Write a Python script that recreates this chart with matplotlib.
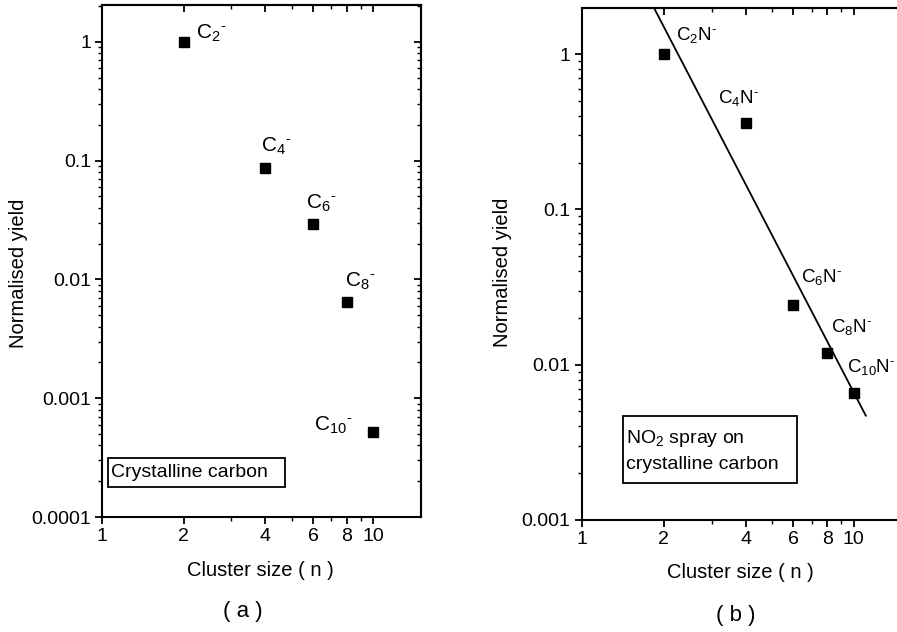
import matplotlib
matplotlib.use('Agg')
import matplotlib.pyplot as plt
from matplotlib.ticker import FixedLocator, FixedFormatter, NullFormatter
from matplotlib.patches import Rectangle

plt.rcParams['font.family'] = ['Liberation Sans', 'DejaVu Sans']
plt.rcParams['mathtext.fontset'] = 'custom'
plt.rcParams['mathtext.rm'] = 'Liberation Sans'
plt.rcParams['mathtext.it'] = 'Liberation Sans:italic'
plt.rcParams['mathtext.default'] = 'regular'

# ---------------- data ----------------
n_a = [2, 4, 6, 8, 10]
yield_a = [1.0, 0.086, 0.0294, 0.0064, 0.00052]
labels_a = [r'C$_2$$^{\text{-}}$', r'C$_4$$^{\text{-}}$', r'C$_6$$^{\text{-}}$',
            r'C$_8$$^{\text{-}}$', r'C$_{10}$$^{\text{-}}$']
label_n_a = [2.23, 3.87, 5.67, 7.89, 6.07]
label_y_a = [1.07, 0.118, 0.0397, 0.00867, 0.00053]

n_b = [2, 4, 6, 8, 10]
yield_b = [1.0, 0.359, 0.0244, 0.0119, 0.00656]
labels_b = [r'C$_2$N$^{\text{-}}$', r'C$_4$N$^{\text{-}}$', r'C$_6$N$^{\text{-}}$',
            r'C$_8$N$^{\text{-}}$', r'C$_{10}$N$^{\text{-}}$']
label_n_b = [2.22, 3.16, 6.39, 8.25, 9.43]
label_y_b = [1.24, 0.483, 0.0341, 0.0162, 0.00896]

fit_n = [1.80, 11.07]
fit_yield = [2.15, 0.0047]

xticks = [1, 2, 4, 6, 8, 10]
xticklabels = ['1', '2', '4', '6', '8', '10']
xminor = [3, 5, 7, 9]

yticks_a = [0.0001, 0.001, 0.01, 0.1, 1]
yticklabels_a = ['0.0001', '0.001', '0.01', '0.1', '1']
yticks_b = [0.001, 0.01, 0.1, 1]
yticklabels_b = ['0.001', '0.01', '0.1', '1']

xlabel = 'Cluster size ( n )'
ylabel = 'Normalised yield'
box_a = 'Crystalline carbon'
box_b = 'NO$_2$ spray on\ncrystalline carbon'

# ---------------- figure ----------------
W, H = 897, 632
fig = plt.figure(figsize=(W / 100, H / 100), dpi=100)

def px_axes(left, top, right, bottom):
    return fig.add_axes([left / W, 1 - bottom / H, (right - left) / W, (bottom - top) / H])

ax_a = px_axes(102, 5, 421, 517)
ax_b = px_axes(581.7, 8, 901.7, 520)

def style(ax, ymin, ymax, yt, ytl, mirror_right=True):
    ax.set_xscale('log')
    ax.set_yscale('log')
    ax.set_xlim(1, 15)
    ax.set_ylim(ymin, ymax)
    ax.xaxis.set_major_locator(FixedLocator(xticks))
    ax.xaxis.set_major_formatter(FixedFormatter(xticklabels))
    ax.xaxis.set_minor_locator(FixedLocator(xminor))
    ax.xaxis.set_minor_formatter(NullFormatter())
    ax.yaxis.set_major_locator(FixedLocator(yt))
    ax.yaxis.set_major_formatter(FixedFormatter(ytl))
    yminor = [m * d for d in yt for m in range(2, 10) if m * d < ymax]
    ax.yaxis.set_minor_locator(FixedLocator(yminor))
    ax.yaxis.set_minor_formatter(NullFormatter())
    for s in ax.spines.values():
        s.set_linewidth(1.5)
    ax.tick_params(which='major', direction='out', length=5, width=1.3,
                   labelsize=14, pad=3, top=False, right=False)
    ax.tick_params(which='minor', direction='out', length=3, width=1.0,
                   top=False, right=False)
    # mirrored inward ticks on top and right
    sx = ax.secondary_xaxis('top')
    sx.xaxis.set_major_locator(FixedLocator(xticks))
    sx.xaxis.set_minor_locator(FixedLocator(xminor))
    sx.xaxis.set_major_formatter(NullFormatter())
    sx.xaxis.set_minor_formatter(NullFormatter())
    sx.tick_params(which='major', direction='in', length=5, width=1.3)
    sx.tick_params(which='minor', direction='in', length=3, width=1.0)
    sx.spines['top'].set_linewidth(1.5)
    if mirror_right:
        sy = ax.secondary_yaxis('right')
        sy.yaxis.set_major_locator(FixedLocator(yt))
        sy.yaxis.set_minor_locator(FixedLocator(yminor))
        sy.yaxis.set_major_formatter(NullFormatter())
        sy.yaxis.set_minor_formatter(NullFormatter())
        sy.tick_params(which='major', direction='in', length=5, width=1.3)
        sy.tick_params(which='minor', direction='in', length=3, width=1.0)
        sy.spines['right'].set_linewidth(1.5)

style(ax_a, 1e-4, 2.04, yticks_a, yticklabels_a)
style(ax_b, 1e-3, 1.98, yticks_b, yticklabels_b, mirror_right=False)

# panel a
ax_a.plot(n_a, yield_a, 's', color='black', markersize=6.5, linestyle='none')
for t, x, y in zip(labels_a, label_n_a, label_y_a):
    ax_a.text(x, y, t, fontsize=15, ha='left', va='baseline')
ax_a.add_patch(Rectangle((0.0188, 0.0586), 0.574 - 0.0188, 0.115 - 0.0586,
                         transform=ax_a.transAxes, fill=False, lw=1.3, ec='black'))
ax_a.text(0.028, 0.087, box_a, transform=ax_a.transAxes, fontsize=14,
          ha='left', va='center')

# panel b
ax_b.plot(fit_n, fit_yield, '-', color='black', lw=1.3)
ax_b.plot(n_b, yield_b, 's', color='black', markersize=7, linestyle='none')
for t, x, y in zip(labels_b, label_n_b, label_y_b):
    ax_b.text(x, y, t, fontsize=13.5, ha='left', va='baseline')
ax_b.add_patch(Rectangle((0.129, 0.0723), 0.673 - 0.129, 0.203 - 0.0723,
                         transform=ax_b.transAxes, fill=False, lw=1.3, ec='black'))
ax_b.text(0.138, 0.136, box_b, transform=ax_b.transAxes, fontsize=14,
          ha='left', va='center', linespacing=1.55)

# axis labels and panel captions
fig.text(18 / W, 1 - 273 / H, ylabel, rotation=90, fontsize=14.5, ha='center', va='center')
fig.text(503 / W, 1 - 272 / H, ylabel, rotation=90, fontsize=14.5, ha='center', va='center')
fig.text(260 / W, 1 - 571 / H, xlabel, fontsize=14.5, ha='center', va='center')
fig.text(740 / W, 1 - 573 / H, xlabel, fontsize=14.5, ha='center', va='center')
fig.text(243 / W, 1 - 612 / H, '( a )', fontsize=16, ha='center', va='center')
fig.text(736 / W, 1 - 615 / H, '( b )', fontsize=16, ha='center', va='center')

fig.savefig('out.png', dpi=100)
